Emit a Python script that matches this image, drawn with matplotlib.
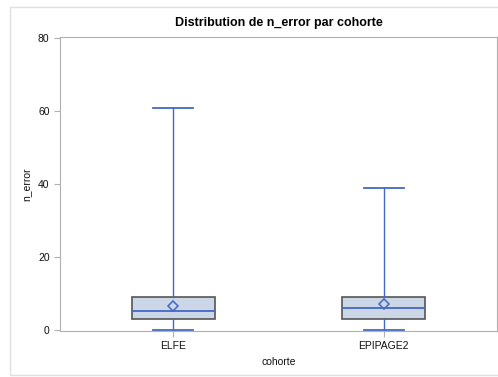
import matplotlib.pyplot as plt
from matplotlib.patches import Rectangle

plt.rcParams['font.family'] = ['Liberation Sans', 'DejaVu Sans']

# summary stats
cohortes = ['ELFE', 'EPIPAGE2']
q1 = [3, 3]
med = [5, 6]
q3 = [9, 9]
wlo = [0, 0]
whi = [61, 39]
means = [6.6, 6.9]

stats = []
for i, name in enumerate(cohortes):
    stats.append({'label': name, 'q1': q1[i], 'med': med[i], 'q3': q3[i],
                  'whislo': wlo[i], 'whishi': whi[i], 'mean': means[i], 'fliers': []})

blue = '#4468C4'
fig = plt.figure(figsize=(4.98, 3.77), dpi=100)
ax = fig.add_axes([60/498, 1-331/377, 437/498, 294/377])

ax.bxp(stats, positions=[0, 1], widths=0.395, showmeans=True, patch_artist=True,
       boxprops=dict(facecolor='#CBD6E6', edgecolor='#555555', linewidth=1.2),
       medianprops=dict(color=blue, linewidth=1.3),
       whiskerprops=dict(color=blue, linewidth=1),
       capprops=dict(color=blue, linewidth=1.3),
       capwidths=0.19,
       meanprops=dict(marker='D', markerfacecolor='none', markeredgecolor=blue,
                      markersize=5, markeredgewidth=1.1))

ax.set_xlim(-0.54, 1.54)
ax.set_ylim(-0.4, 80.4)
ax.set_yticks([0, 20, 40, 60, 80])
for s in ax.spines.values():
    s.set_color('#B0B0B0')
ax.tick_params(colors='#B0B0B0', labelcolor='#111111', labelsize=7.5, length=4)
ax.set_xlabel('cohorte', fontsize=7.5, color='#111111', labelpad=4)
ax.set_ylabel('n_error', fontsize=7.5, color='#111111', labelpad=5)
ax.set_title('Distribution de n_error par cohorte', fontsize=9, fontweight='bold', pad=8)

fig.patches.append(Rectangle((10/498, 2/377), 490/498, 368/377, transform=fig.transFigure,
                             fill=False, edgecolor='#E0E0E0', linewidth=1))

fig.savefig('out.png', dpi=100)
